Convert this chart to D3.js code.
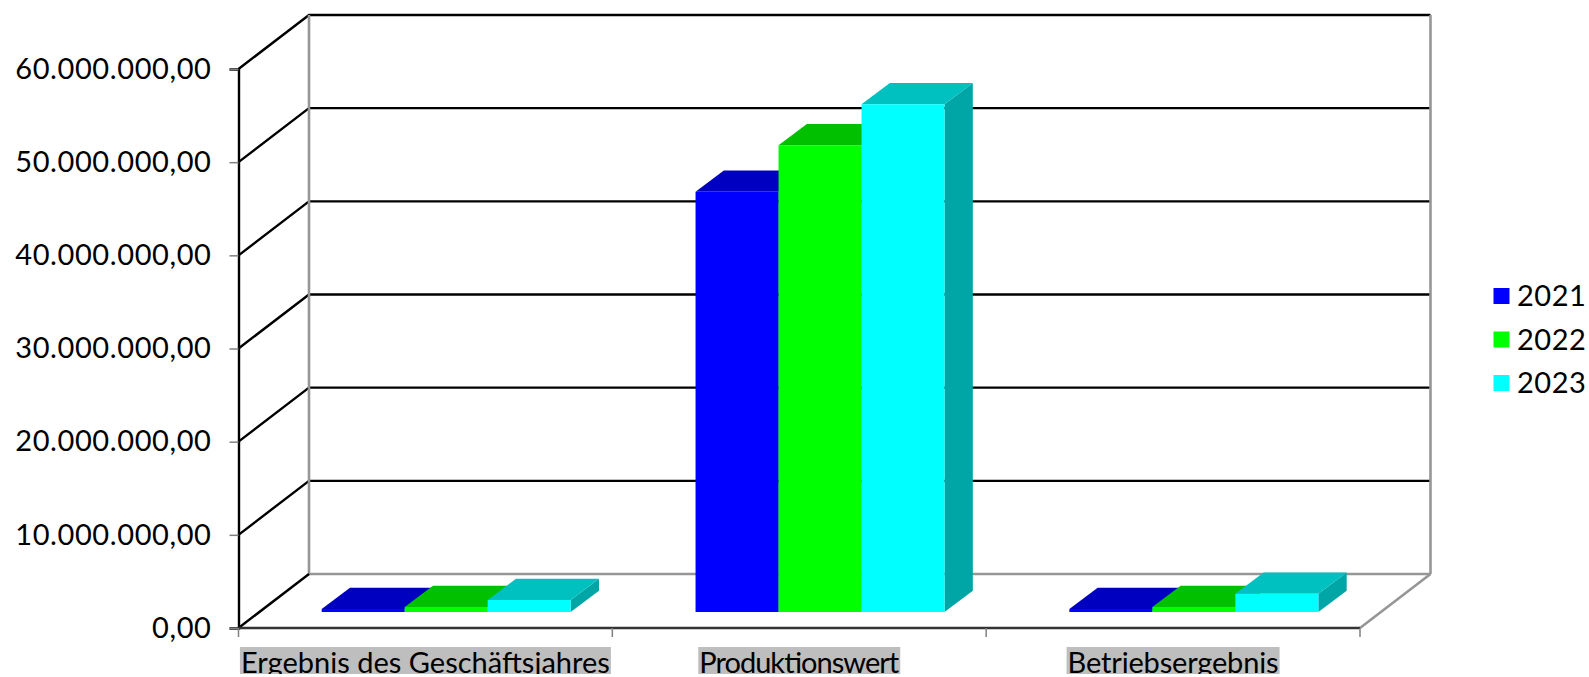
<!DOCTYPE html>
<html>
<head>
<meta charset="utf-8">
<script src="https://cdn.jsdelivr.net/npm/d3@7"></script>
<style>
  html, body { margin: 0; padding: 0; background: #fff; overflow: hidden; }
  text { font-family: Lato, sans-serif; fill: #000; }
</style>
</head>
<body>
<svg id="chart" width="1589" height="677"></svg>
<script>
const categories = ["Ergebnis des Geschäftsjahres", "Produktionswert", "Betriebsergebnis"];
const years = ["2021", "2022", "2023"];
const values2021 = [320000, 45100000, 320000];
const values2022 = [540000, 50100000, 540000];
const values2023 = [1290000, 54500000, 1960000];
const yTicks = [0, 10000000, 20000000, 30000000, 40000000, 50000000, 60000000];

const frontColors = ["#0000ff", "#00ff00", "#00ffff"];
const topColors = ["#0000c0", "#00c000", "#00c0c0"];
const sideColors = ["#0000a6", "#00a600", "#00a6a6"];

showChart();

function showChart() {
  let config = getConfig();
  let scales = getScales(config);

  drawWalls(scales, config);
  drawAxes(scales, config);
  drawBars(scales, config);
  drawLegend(config);
}

function getConfig() {
  return {
    svg: d3.select("#chart"),
    left: 238.5,
    right: 1360,
    floor: 628,
    top: 69,
    // oblique offset of the back wall
    wallDx: 70.5,
    wallDy: 54,
    // bars stand a bit inside the floor
    barDx: 21,
    barDy: 16,
    depthDx: 28.3,
    depthDy: 21.3,
    fontSize: 29,
    // text widths of the category labels in the reference
    labelWidths: [369, 200, 211],
  };
}

function getScales(config) {
  let y = d3.scaleLinear().domain([0, 60000000]).range([config.floor, config.top]);
  let x = d3.scaleBand().domain(categories).range([config.left, config.right]);
  let xInner = d3.scaleBand().domain(years).range([62.2, 311.2]);
  return { x, xInner, y };
}

function drawWalls({ y }, config) {
  let { svg, left, right, floor, wallDx, wallDy } = config;
  let g = svg.append("g");
  let backLeft = left + wallDx;
  let backRight = right + wallDx;

  // grid lines run along the left wall and across the back
  g.selectAll(".grid")
    .data(yTicks.slice(1))
    .enter()
    .append("polyline")
    .attr("class", "grid")
    .attr("fill", "none")
    .attr("stroke", "#000")
    .attr("stroke-width", 2.4)
    .attr("points", (d) => [
      [left, y(d)],
      [backLeft, y(d) - wallDy],
      [backRight, y(d) - wallDy],
    ].join(" "));

  // back wall edges and floor
  let gray = "#969696";
  let backFloor = floor - wallDy;
  let backTop = y(60000000) - wallDy;
  [
    [backLeft, backTop, backLeft, backFloor],
    [backRight, backTop, backRight, backFloor],
    [backLeft, backFloor, backRight, backFloor],
    [right, floor, backRight, backFloor],
  ].forEach((l) => {
    g.append("line")
      .attr("x1", l[0]).attr("y1", l[1])
      .attr("x2", l[2]).attr("y2", l[3])
      .attr("stroke", gray)
      .attr("stroke-width", 2.6);
  });

  g.append("line")
    .attr("x1", left).attr("y1", floor)
    .attr("x2", backLeft).attr("y2", backFloor)
    .attr("stroke", "#000")
    .attr("stroke-width", 2.4);
}

function drawAxes({ x, y }, config) {
  let { svg, left, right, floor, fontSize, labelWidths } = config;
  let numberFormat = d3.formatLocale({
    decimal: ",",
    thousands: ".",
    grouping: [3],
    currency: ["", ""],
  }).format(",.2f");

  let yAxis = d3.axisLeft(y)
    .tickValues(yTicks)
    .tickFormat(numberFormat)
    .tickSize(9)
    .tickPadding(18);

  let gy = svg.append("g")
    .attr("transform", `translate(${left},0)`)
    .call(yAxis);
  gy.select(".domain").attr("stroke", "#000").attr("stroke-width", 2.4);
  gy.selectAll(".tick line").attr("stroke", "#808080").attr("stroke-width", 1.5);
  gy.selectAll("text")
    .style("font-size", fontSize + "px")
    .style("font-family", "Lato, sans-serif")
    .style("letter-spacing", "0.6px");

  // the labels are cut off at the bottom in the reference too
  svg.append("clipPath")
    .attr("id", "labelClip")
    .append("rect")
    .attr("x", 0).attr("y", 0)
    .attr("width", 1589).attr("height", 674);

  // category ticks sit on the band edges
  let edges = categories.map((c) => x(c)).concat([right]);
  let gx = svg.append("g");
  gx.append("line")
    .attr("x1", left).attr("y1", floor)
    .attr("x2", right).attr("y2", floor)
    .attr("stroke", "#333")
    .attr("stroke-width", 2.4);
  gx.selectAll(".xtick")
    .data(edges)
    .enter()
    .append("line")
    .attr("class", "xtick")
    .attr("x1", (d) => d).attr("x2", (d) => d)
    .attr("y1", floor).attr("y2", floor + 9)
    .attr("stroke", "#808080")
    .attr("stroke-width", 1.5);

  let labels = svg.append("g").attr("clip-path", "url(#labelClip)");
  categories.forEach((c, i) => {
    let cx = x(c) + x.bandwidth() / 2;
    let w = labelWidths[i];
    let label = labels.append("g");
    label.append("rect")
      .attr("fill", "#bebebe")
      .attr("x", cx - w / 2 - 1)
      .attr("y", 647)
      .attr("width", w + 2)
      .attr("height", 27);
    label.append("text")
      .attr("x", cx)
      .attr("y", 672.5)
      .attr("text-anchor", "middle")
      .attr("textLength", w)
      .style("font-size", fontSize + "px")
      .text(c);
  });
}

function drawBars({ x, xInner, y }, config) {
  let { svg, barDx, barDy, depthDx, depthDy } = config;
  let series = [values2021, values2022, values2023];
  let w = xInner.bandwidth();

  years.forEach((year, s) => {
    let g = svg.append("g").attr("class", "series-" + year);
    let rows = categories.map((c, i) => ({
      x0: x(c) + barDx + xInner(year),
      yTop: y(series[s][i]) - barDy,
      yBase: y(0) - barDy,
    }));

    g.selectAll(".side")
      .data(rows)
      .enter()
      .append("polygon")
      .attr("fill", sideColors[s])
      .attr("points", (d) => [
        [d.x0 + w, d.yTop],
        [d.x0 + w + depthDx, d.yTop - depthDy],
        [d.x0 + w + depthDx, d.yBase - depthDy],
        [d.x0 + w, d.yBase],
      ].join(" "));

    g.selectAll(".top")
      .data(rows)
      .enter()
      .append("polygon")
      .attr("fill", topColors[s])
      .attr("points", (d) => [
        [d.x0, d.yTop],
        [d.x0 + depthDx, d.yTop - depthDy],
        [d.x0 + w + depthDx, d.yTop - depthDy],
        [d.x0 + w, d.yTop],
      ].join(" "));

    g.selectAll(".front")
      .data(rows)
      .enter()
      .append("rect")
      .attr("fill", frontColors[s])
      .attr("x", (d) => d.x0)
      .attr("y", (d) => d.yTop)
      .attr("width", w)
      .attr("height", (d) => d.yBase - d.yTop);
  });
}

function drawLegend({ svg, fontSize }) {
  let legendY = d3.scalePoint().domain(years).range([288, 375]);
  let items = svg.selectAll(".legend")
    .data(years)
    .enter()
    .append("g")
    .attr("class", "legend")
    .attr("transform", (d) => `translate(1493.5,${legendY(d)})`);

  items.append("rect")
    .attr("width", 16)
    .attr("height", 16)
    .attr("fill", (d, i) => frontColors[i]);

  items.append("text")
    .attr("x", 23.5)
    .attr("y", 18)
    .style("font-size", fontSize + "px")
    .style("letter-spacing", "0.5px")
    .text((d) => d);
}
</script>
</body>
</html>
